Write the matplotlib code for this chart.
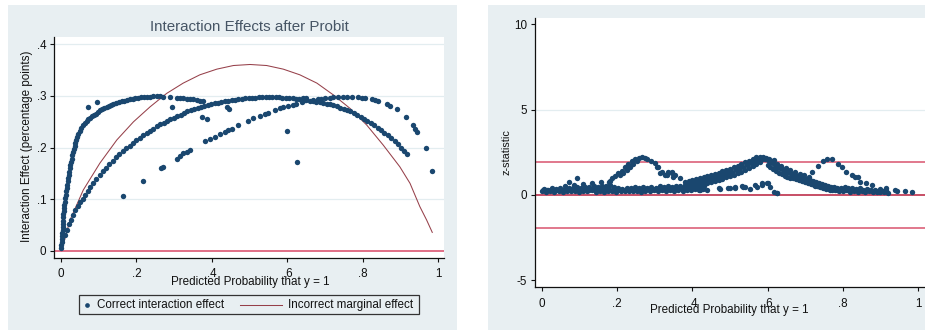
import matplotlib
matplotlib.use("Agg")
import matplotlib.pyplot as plt
from matplotlib.patches import Rectangle
from matplotlib.lines import Line2D

plt.rcParams['font.family'] = ['Liberation Sans', 'DejaVu Sans']

# ---- left panel: interaction effect vs predicted probability ----
band_a_x = [0.001, 0.001, 0.002, 0.002, 0.003, 0.003, 0.004, 0.0045, 0.005, 0.0055,
            0.006, 0.0065, 0.007, 0.008, 0.009, 0.0098, 0.0106, 0.012, 0.0135, 0.015,
            0.016, 0.0175, 0.019, 0.0205, 0.022, 0.024, 0.025, 0.027, 0.028, 0.030,
            0.032, 0.034, 0.036, 0.038, 0.041, 0.043, 0.046, 0.050, 0.054, 0.059,
            0.063, 0.068, 0.072, 0.077, 0.082, 0.087, 0.092, 0.098, 0.103, 0.109,
            0.115, 0.121, 0.127, 0.133, 0.139, 0.146, 0.153, 0.161, 0.168, 0.175,
            0.183, 0.190, 0.197, 0.204, 0.212, 0.220, 0.227, 0.236, 0.245, 0.254,
            0.263, 0.270]
band_a_y = [0.005, 0.011, 0.017, 0.023, 0.029, 0.035, 0.041, 0.047, 0.053, 0.059,
            0.065, 0.071, 0.077, 0.083, 0.089, 0.095, 0.102, 0.109, 0.116, 0.122,
            0.128, 0.135, 0.141, 0.147, 0.153, 0.160, 0.166, 0.172, 0.179, 0.185,
            0.191, 0.197, 0.203, 0.209, 0.215, 0.221, 0.227, 0.233, 0.238, 0.243,
            0.247, 0.251, 0.255, 0.258, 0.261, 0.264, 0.266, 0.269, 0.272, 0.274,
            0.277, 0.279, 0.281, 0.283, 0.284, 0.286, 0.288, 0.290, 0.291, 0.293,
            0.294, 0.295, 0.296, 0.297, 0.298, 0.298, 0.299, 0.299, 0.300, 0.300,
            0.300, 0.299]

band_b_x = [0.011, 0.015, 0.020, 0.026, 0.032, 0.038, 0.044, 0.050, 0.057, 0.064,
            0.071, 0.078, 0.086, 0.094, 0.102, 0.110, 0.119, 0.128, 0.137, 0.146,
            0.155, 0.164, 0.173, 0.182, 0.191, 0.200, 0.209, 0.218, 0.227, 0.236,
            0.245, 0.254, 0.263, 0.272, 0.281, 0.290, 0.299, 0.308, 0.317, 0.326,
            0.335, 0.344, 0.353, 0.362, 0.371, 0.380, 0.389, 0.398, 0.407, 0.416,
            0.425, 0.434, 0.443, 0.452, 0.461, 0.470, 0.479, 0.488, 0.497, 0.506,
            0.515, 0.524, 0.533, 0.542, 0.551, 0.560, 0.569, 0.578, 0.587, 0.596,
            0.605, 0.614, 0.623, 0.632, 0.641, 0.650, 0.659, 0.668, 0.677, 0.686,
            0.695, 0.704, 0.713, 0.722, 0.731, 0.740, 0.749, 0.758, 0.767, 0.776,
            0.785, 0.794, 0.803, 0.812, 0.821, 0.830, 0.839, 0.848, 0.857, 0.866,
            0.875, 0.884, 0.893, 0.902, 0.910, 0.916]
band_b_y = [0.031, 0.040, 0.053, 0.060, 0.070, 0.079, 0.087, 0.094, 0.101, 0.109,
            0.117, 0.124, 0.131, 0.139, 0.147, 0.154, 0.161, 0.168, 0.175, 0.182,
            0.188, 0.194, 0.199, 0.204, 0.209, 0.214, 0.219, 0.224, 0.229, 0.233,
            0.237, 0.241, 0.245, 0.248, 0.252, 0.255, 0.258, 0.261, 0.264, 0.267,
            0.270, 0.272, 0.275, 0.277, 0.279, 0.281, 0.283, 0.284, 0.286, 0.287,
            0.289, 0.290, 0.291, 0.292, 0.293, 0.294, 0.295, 0.296, 0.296, 0.297,
            0.297, 0.298, 0.298, 0.298, 0.298, 0.298, 0.298, 0.298, 0.297, 0.297,
            0.296, 0.296, 0.295, 0.294, 0.293, 0.292, 0.291, 0.290, 0.289, 0.288,
            0.286, 0.285, 0.284, 0.282, 0.280, 0.277, 0.275, 0.272, 0.270, 0.267,
            0.263, 0.260, 0.256, 0.252, 0.248, 0.244, 0.239, 0.234, 0.229, 0.224,
            0.219, 0.213, 0.207, 0.200, 0.193, 0.187]

# sparse continuation of the upper arc
upper_x = [0.289, 0.307, 0.315, 0.324, 0.333, 0.342, 0.351, 0.360, 0.368, 0.377,
           0.641, 0.650, 0.668, 0.680, 0.690, 0.700, 0.713, 0.722, 0.735, 0.748,
           0.757, 0.770, 0.788, 0.797, 0.806, 0.823, 0.832, 0.841, 0.863, 0.872,
           0.890, 0.914, 0.934, 0.938, 0.943, 0.967, 0.983]
upper_y = [0.298, 0.297, 0.296, 0.296, 0.295, 0.294, 0.294, 0.292, 0.291, 0.290,
           0.297, 0.297, 0.293, 0.294, 0.295, 0.296, 0.297, 0.298, 0.299, 0.299,
           0.299, 0.299, 0.298, 0.297, 0.297, 0.294, 0.292, 0.291, 0.284, 0.281,
           0.274, 0.259, 0.243, 0.237, 0.231, 0.199, 0.155]

# sparse lower arc
lower_x = [0.265, 0.271, 0.307, 0.315, 0.324, 0.333, 0.342, 0.382, 0.395, 0.408,
           0.421, 0.435, 0.443, 0.452, 0.470, 0.496, 0.510, 0.528, 0.541, 0.549,
           0.567, 0.580, 0.589, 0.602, 0.616, 0.623, 0.638, 0.647]
lower_y = [0.160, 0.163, 0.179, 0.184, 0.189, 0.192, 0.195, 0.212, 0.217, 0.221,
           0.226, 0.231, 0.235, 0.237, 0.244, 0.252, 0.257, 0.261, 0.265, 0.268,
           0.273, 0.276, 0.278, 0.281, 0.283, 0.284, 0.289, 0.292]

stray_x = [0.072, 0.095, 0.293, 0.373, 0.386, 0.439, 0.446, 0.600, 0.626, 0.165, 0.218]
stray_y = [0.279, 0.289, 0.279, 0.260, 0.255, 0.278, 0.275, 0.232, 0.173, 0.107, 0.135]

# incorrect marginal effect
marg_x = [0.002, 0.024, 0.059, 0.103, 0.148, 0.192, 0.236, 0.280, 0.324, 0.368,
          0.413, 0.457, 0.501, 0.545, 0.589, 0.633, 0.678, 0.722, 0.766, 0.810,
          0.854, 0.898, 0.925, 0.951, 0.969, 0.984]
marg_y = [0.002, 0.060, 0.118, 0.170, 0.215, 0.250, 0.279, 0.305, 0.325, 0.341,
          0.352, 0.359, 0.361, 0.359, 0.352, 0.341, 0.325, 0.302, 0.276, 0.244,
          0.205, 0.163, 0.131, 0.086, 0.060, 0.036]

# ---- right panel: z-statistic vs predicted probability ----
z_low_x = [0.000, 0.011, 0.022, 0.033, 0.044, 0.055, 0.066, 0.077, 0.088, 0.099,
           0.110, 0.121, 0.132, 0.143, 0.154, 0.165, 0.176, 0.187, 0.198, 0.209,
           0.220, 0.231, 0.242, 0.253, 0.264, 0.275, 0.286, 0.297, 0.308, 0.319,
           0.330, 0.341, 0.352, 0.363, 0.374, 0.385, 0.396, 0.407, 0.418, 0.429,
           0.440,
           0.005, 0.016, 0.027, 0.038, 0.049, 0.060, 0.071, 0.082, 0.093, 0.104,
           0.115, 0.126, 0.137, 0.148, 0.159, 0.170, 0.181, 0.192, 0.203, 0.214,
           0.225, 0.236, 0.247, 0.258, 0.269, 0.280, 0.291, 0.302, 0.313, 0.324,
           0.335, 0.346, 0.357, 0.368, 0.379,
           0.003, 0.014, 0.025, 0.036, 0.047, 0.058, 0.069, 0.080, 0.091, 0.102,
           0.113, 0.124, 0.135, 0.146, 0.157, 0.168, 0.179, 0.190, 0.201, 0.212,
           0.223, 0.234, 0.245, 0.256, 0.267, 0.278, 0.289, 0.300, 0.311, 0.322,
           0.333, 0.344, 0.355, 0.366, 0.377, 0.388, 0.399, 0.410, 0.421, 0.432,
           0.062, 0.086, 0.110, 0.134, 0.158, 0.182]
z_low = [0.22, 0.18, 0.25, 0.19, 0.24, 0.20, 0.26, 0.21, 0.24, 0.19,
         0.25, 0.21, 0.27, 0.20, 0.24, 0.19, 0.23, 0.26, 0.20, 0.24,
         0.21, 0.26, 0.22, 0.25, 0.20, 0.26, 0.23, 0.27, 0.22, 0.28,
         0.24, 0.27, 0.23, 0.29, 0.25, 0.30, 0.27, 0.33, 0.29, 0.35,
         0.31,
         0.36, 0.32, 0.38, 0.34, 0.40, 0.37, 0.43, 0.40, 0.46, 0.42,
         0.49, 0.45, 0.52, 0.47, 0.55, 0.50, 0.58, 0.44, 0.40, 0.37,
         0.42, 0.38, 0.44, 0.40, 0.46, 0.41, 0.47, 0.43, 0.50, 0.45,
         0.52, 0.48, 0.55, 0.50, 0.57,
         0.29, 0.27, 0.31, 0.28, 0.32, 0.30, 0.34, 0.29, 0.33, 0.31,
         0.36, 0.30, 0.35, 0.32, 0.38, 0.33, 0.36, 0.31, 0.29, 0.32,
         0.30, 0.33, 0.29, 0.34, 0.31, 0.35, 0.30, 0.36, 0.33, 0.38,
         0.35, 0.40, 0.36, 0.42, 0.39, 0.45, 0.42, 0.48, 0.45, 0.52,
         0.52, 0.58, 0.64, 0.70, 0.75, 0.80]

z_hump1_x = [0.071, 0.093, 0.177, 0.186, 0.195, 0.203, 0.213, 0.222, 0.230, 0.239,
             0.248, 0.257, 0.266, 0.273, 0.280, 0.289, 0.300, 0.309, 0.319, 0.332,
             0.346, 0.355, 0.207, 0.216, 0.225, 0.234, 0.243, 0.252, 0.305, 0.314,
             0.327, 0.336, 0.345, 0.349, 0.367]
z_hump1 = [0.78, 0.98, 0.78, 0.98, 1.13, 1.27, 1.43, 1.62, 1.80, 1.97,
           2.09, 2.18, 2.24, 2.18, 2.08, 1.97, 1.85, 1.62, 1.37, 1.17,
           1.37, 1.17, 1.15, 1.30, 1.45, 1.62, 1.80, 1.97, 1.66, 1.27,
           1.17, 1.37, 1.27, 1.07, 0.98]

z_rise_x = [0.380, 0.390, 0.400, 0.410, 0.420, 0.430, 0.440, 0.450, 0.460, 0.470,
            0.480, 0.490, 0.500, 0.510, 0.520, 0.530, 0.540, 0.550, 0.560, 0.570,
            0.580, 0.588,
            0.385, 0.395, 0.405, 0.415, 0.425, 0.435, 0.445, 0.455, 0.465, 0.475,
            0.485, 0.495, 0.505, 0.515, 0.525, 0.535, 0.545, 0.555, 0.565, 0.575,
            0.585, 0.592,
            0.390, 0.400, 0.410, 0.420, 0.430, 0.440, 0.450, 0.460, 0.470, 0.480,
            0.490, 0.500, 0.510, 0.520, 0.530, 0.540, 0.550, 0.560, 0.570, 0.580]
z_rise = [0.75, 0.80, 0.86, 0.92, 0.98, 1.04, 1.10, 1.16, 1.23, 1.30,
          1.38, 1.46, 1.54, 1.63, 1.72, 1.82, 1.92, 2.02, 2.12, 2.20,
          2.25, 2.22,
          0.58, 0.63, 0.69, 0.75, 0.81, 0.87, 0.93, 1.00, 1.07, 1.14,
          1.21, 1.29, 1.37, 1.46, 1.55, 1.65, 1.75, 1.86, 1.97, 2.07,
          2.12, 2.10,
          0.42, 0.47, 0.52, 0.57, 0.63, 0.69, 0.75, 0.82, 0.89, 0.96,
          1.03, 1.11, 1.19, 1.28, 1.37, 1.47, 1.58, 1.70, 1.82, 1.95]

z_low2_x = [0.420, 0.470, 0.473, 0.496, 0.500, 0.513, 0.514, 0.532, 0.535, 0.541,
            0.553, 0.567, 0.571, 0.584, 0.585, 0.598, 0.602, 0.607, 0.616, 0.624,
            0.625]
z_low2 = [0.29, 0.39, 0.33, 0.39, 0.43, 0.39, 0.45, 0.53, 0.49, 0.49,
          0.33, 0.59, 0.49, 0.59, 0.68, 0.72, 0.72, 0.49, 0.20, 0.14,
          0.10]

z_fall_x = [0.595, 0.602, 0.608, 0.614, 0.620, 0.626, 0.632, 0.638, 0.645, 0.652,
            0.659, 0.666, 0.673, 0.680, 0.688, 0.696, 0.704, 0.712, 0.720, 0.728,
            0.736, 0.744, 0.752, 0.760, 0.768, 0.776, 0.784, 0.792,
            0.600, 0.607, 0.615, 0.622, 0.630, 0.637, 0.645, 0.652, 0.660, 0.668,
            0.676, 0.684, 0.692, 0.700, 0.708, 0.716, 0.724, 0.732, 0.740, 0.748,
            0.756, 0.764, 0.772, 0.780,
            0.605, 0.612, 0.618, 0.625, 0.635, 0.648, 0.660, 0.672, 0.685, 0.698,
            0.710]
z_fall = [2.15, 2.05, 1.95, 1.85, 1.76, 1.66, 1.58, 1.50, 1.43, 1.36,
          1.30, 1.24, 1.18, 1.12, 1.06, 1.00, 0.94, 0.88, 0.82, 0.76,
          0.70, 0.64, 0.58, 0.53, 0.48, 0.44, 0.40, 0.37,
          1.75, 1.62, 1.50, 1.40, 1.30, 1.22, 1.14, 1.08, 1.02, 0.97,
          0.92, 0.86, 0.80, 0.74, 0.68, 0.62, 0.56, 0.50, 0.46, 0.42,
          0.38, 0.34, 0.30, 0.27,
          2.10, 1.98, 2.05, 1.80, 1.70, 1.58, 1.45, 1.35, 1.25, 1.15,
          1.05]

z_tail_x = [0.717, 0.735, 0.747, 0.757, 0.770, 0.788, 0.797, 0.808, 0.824, 0.832,
            0.841, 0.845, 0.863, 0.877, 0.899, 0.915, 0.939, 0.943, 0.965, 0.983,
            0.790, 0.800, 0.810, 0.820, 0.830, 0.840, 0.850, 0.860, 0.870, 0.880,
            0.890, 0.900, 0.910, 0.920,
            0.795, 0.805, 0.815, 0.825, 0.835, 0.845, 0.855, 0.865, 0.875, 0.885,
            0.895, 0.905, 0.915,
            0.725, 0.735, 0.745, 0.755, 0.765, 0.775, 0.785, 0.798, 0.808, 0.818,
            0.828, 0.838, 0.848, 0.858, 0.868, 0.878, 0.888, 0.898, 0.908]
z_tail = [1.37, 1.70, 2.01, 2.09, 2.09, 1.82, 1.66, 1.37, 1.17, 1.07,
          1.03, 0.78, 0.68, 0.59, 0.33, 0.39, 0.29, 0.25, 0.23, 0.20,
          0.25, 0.22, 0.28, 0.20, 0.25, 0.18, 0.23, 0.17, 0.22, 0.16,
          0.20, 0.15, 0.18, 0.14,
          0.42, 0.45, 0.38, 0.42, 0.35, 0.38, 0.30, 0.34, 0.28, 0.32,
          0.26, 0.24, 0.30,
          0.55, 0.50, 0.45, 0.33, 0.30, 0.35, 0.31, 0.33, 0.30, 0.32,
          0.29, 0.27, 0.30, 0.25, 0.28, 0.23, 0.26, 0.21, 0.24]

x_ticks = [0, 0.2, 0.4, 0.6, 0.8, 1]
x_ticklabels = ['0', '.2', '.4', '.6', '.8', '1']
ie_ticks = [0, 0.1, 0.2, 0.3, 0.4]
ie_ticklabels = ['0', '.1', '.2', '.3', '.4']
z_ticks = [-5, 0, 5, 10]
z_ticklabels = ['-5', '0', '5', '10']
z_crit = 1.96

navy = '#1a476f'
maroon = '#96404a'
bg = '#e8eff2'
grid_c = '#e3edf0'
W, H = 925, 331
fs = 8.4


def fx(px):
    return px / W


def fy(py):
    return 1 - py / H


fig = plt.figure(figsize=(W / 100, H / 100), dpi=100)
fig.patch.set_facecolor('white')
fig.add_artist(Rectangle((fx(8), fy(330)), fx(449), 325 / H, transform=fig.transFigure,
                         facecolor=bg, edgecolor='none', zorder=-5))
fig.add_artist(Rectangle((fx(488), fy(330)), fx(437), 325 / H, transform=fig.transFigure,
                         facecolor=bg, edgecolor='none', zorder=-5))


def style_axes(ax):
    for s in ('top', 'right'):
        ax.spines[s].set_visible(False)
    for s in ('left', 'bottom'):
        ax.spines[s].set_linewidth(0.9)
        ax.spines[s].set_color('#111111')
    ax.tick_params(direction='out', length=3, width=0.8, labelsize=fs,
                   colors='#111111', pad=2.5)
    ax.tick_params(axis='x', pad=4.5)
    ax.set_facecolor('white')


# left panel
ax1 = fig.add_axes([fx(54), fy(257.7), fx(390), 220.7 / H])
style_axes(ax1)
for g in ie_ticks[1:]:
    ax1.axhline(g, color=grid_c, lw=0.9, zorder=0)
ax1.axhline(0, color='#d94866', lw=1.1, zorder=1)
ax1.plot(marg_x, marg_y, color=maroon, lw=0.75, zorder=2)
ax1.scatter(band_a_x + band_b_x + upper_x + lower_x + stray_x,
            band_a_y + band_b_y + upper_y + lower_y + stray_y,
            s=15, color=navy, linewidths=0, zorder=3)
ax1.set_xlim(-0.0186, 1.0151)
ax1.set_ylim(-0.013, 0.4142)
ax1.set_xticks(x_ticks)
ax1.set_xticklabels(x_ticklabels)
ax1.set_yticks(ie_ticks)
ax1.set_yticklabels(ie_ticklabels)
ax1.set_xlabel('Predicted Probability that y = 1', fontsize=fs, color='#111111')
ax1.xaxis.set_label_coords(0.503, -0.110)
ax1.xaxis.label.set_va('center')
ax1.set_ylabel('Interaction Effect (percentage points)', fontsize=fs, color='#111111')
ax1.yaxis.set_label_coords(-0.069, 0.503)
ax1.yaxis.label.set_va('center')
fig.text(fx(249), fy(27), 'Interaction Effects after Probit', ha='center', va='center',
         fontsize=10.9, color='#465565')

# legend, built by hand to keep Stata's layout
fig.add_artist(Rectangle((fx(79), fy(314)), fx(340), 19 / H, transform=fig.transFigure,
                         facecolor=bg, edgecolor='#333333', lw=0.9, zorder=2))
fig.add_artist(Line2D([fx(86.7)], [fy(305)], transform=fig.transFigure, marker='o',
                      markersize=3.4, color=navy, markeredgewidth=0, linestyle='none'))
fig.text(fx(96.7), fy(305), 'Correct interaction effect', ha='left', va='center',
         fontsize=fs, color='#111111')
fig.add_artist(Line2D([fx(240), fx(281.7)], [fy(305), fy(305)], transform=fig.transFigure,
                      color=maroon, lw=0.75))
fig.text(fx(288.3), fy(305), 'Incorrect marginal effect', ha='left', va='center',
         fontsize=fs, color='#111111')

# right panel
ax2 = fig.add_axes([fx(535), fy(287.3), fx(390), 269.3 / H])
style_axes(ax2)
ax2.axhline(5, color=grid_c, lw=0.9, zorder=0)
ax2.axhline(z_crit, color='#d9546e', lw=1.1, zorder=1)
ax2.axhline(-z_crit, color='#d9546e', lw=1.1, zorder=1)
ax2.axhline(0, color='#b81e3c', lw=1.1, zorder=1)
ax2.scatter(z_low_x + z_hump1_x + z_rise_x + z_low2_x + z_fall_x + z_tail_x,
            z_low + z_hump1 + z_rise + z_low2 + z_fall + z_tail,
            s=15, color=navy, linewidths=0, zorder=3)
ax2.set_xlim(-0.0186, 1.0186)
ax2.set_ylim(-5.41, 10.37)
ax2.set_xticks(x_ticks)
ax2.set_xticklabels(x_ticklabels)
ax2.set_yticks(z_ticks)
ax2.set_yticklabels(z_ticklabels)
ax2.set_xlabel('Predicted Probability that y = 1', fontsize=fs, color='#111111')
ax2.xaxis.set_label_coords(0.497, -0.0843)
ax2.xaxis.label.set_va('center')
ax2.set_ylabel('z-statistic', fontsize=7.8, color='#111111')
ax2.yaxis.set_label_coords(-0.072, 0.5035)
ax2.yaxis.label.set_va('center')

fig.savefig('out.png', dpi=100)
